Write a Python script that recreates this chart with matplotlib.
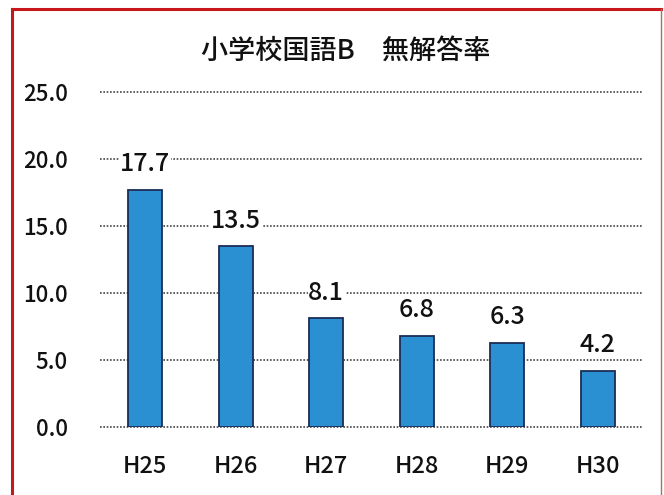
import matplotlib
matplotlib.use("Agg")
import matplotlib.pyplot as plt
from matplotlib.lines import Line2D

plt.rcParams["font.family"] = ["Noto Sans CJK JP", "DejaVu Sans"]

title = "小学校国語B\u3000無解答率"
years = ["H25", "H26", "H27", "H28", "H29", "H30"]
rates = [17.7, 13.5, 8.1, 6.8, 6.3, 4.2]
y_ticks = [0.0, 5.0, 10.0, 15.0, 20.0, 25.0]

fig = plt.figure(figsize=(6.64, 4.95), dpi=100)
fig.patch.set_facecolor("white")
ax = fig.add_axes([0.1506, 0.1374, 0.8178, 0.6767])

x = range(len(years))
ax.bar(x, rates, width=0.38, color="#2b90d2", edgecolor="#1b2d55",
       linewidth=1.3, zorder=3)

for xi, v in zip(x, rates):
    ax.annotate(f"{v:.1f}", (xi, v), xytext=(0, 9), textcoords="offset points",
                ha="center", va="bottom", fontsize=18, fontweight="medium",
                color="#111111", zorder=4,
                bbox=dict(facecolor="white", edgecolor="none", pad=0.5))

ax.set_xlim(-0.5, len(years) - 0.5)
ax.set_ylim(0, 25)
ax.set_yticks(y_ticks)
ax.set_yticklabels([f"{t:.1f}" for t in y_ticks], fontsize=16,
                   fontweight="medium", color="#111111")
ax.set_xticks(list(x))
ax.set_xticklabels(years, fontsize=17, fontweight="medium", color="#111111")
ax.tick_params(length=0)
ax.tick_params(axis="y", pad=23)
ax.tick_params(axis="x", pad=20)
for s in ax.spines.values():
    s.set_visible(False)
ax.yaxis.grid(True, linestyle=(0, (1, 1)), color="#444444", linewidth=1.2, zorder=0)
ax.set_axisbelow(True)
for gl in ax.get_ygridlines():
    gl.set_clip_on(False)

fig.text(0.52, 0.897, title, ha="center", va="center", fontsize=19.5,
         fontweight="medium", color="#111111")

# frame of the clipped figure
fig.add_artist(Line2D([12 / 664, 12 / 664], [0, 1 - 9 / 495], color="#c8161d", linewidth=2.2))
fig.add_artist(Line2D([12 / 664, 661 / 664], [1 - 9 / 495, 1 - 9 / 495], color="#c8161d", linewidth=2.2))
fig.add_artist(Line2D([661 / 664, 661 / 664], [0, 1 - 9 / 495], color="#9b7a55", linewidth=1.0))

fig.savefig("out.png", dpi=100)
